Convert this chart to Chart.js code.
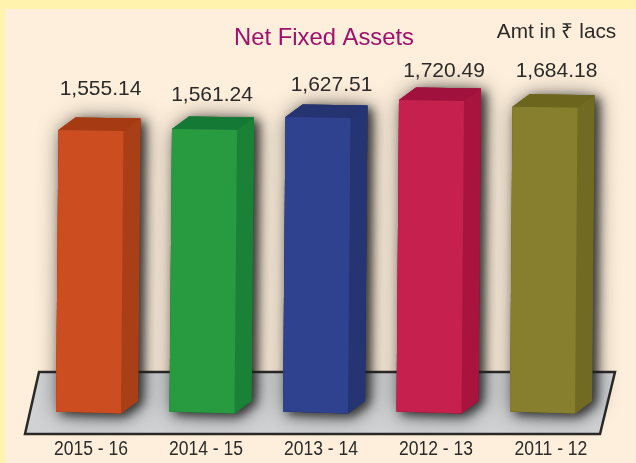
<!DOCTYPE html>
<html>
<head>
<meta charset="utf-8">
<title>Net Fixed Assets</title>
<script src="https://cdn.jsdelivr.net/npm/chart.js@4/dist/chart.umd.min.js"></script>
<style>
    html, body { margin: 0; padding: 0; background: #fff3ad; }
    canvas { display: block; }
</style>
</head>
<body>
<canvas id="assetsChart" width="636" height="463"></canvas>
<script>
const years = ['2015 - 16', '2014 - 15', '2013 - 14', '2012 - 13', '2011 - 12'];
const netFixedAssets = [1555.14, 1561.24, 1627.51, 1720.49, 1684.18];

const frontColors = ['#cb4d20', '#289a40', '#2f428f', '#c5204e', '#877f2d'];
const topColors = ['#a63a13', '#147934', '#253470', '#a0123d', '#6b651e'];
const sideColors = ['#a93f16', '#1a8236', '#253574', '#a9143f', '#716a22'];

// value labels sit by hand in the original, so each has its own offset from the bar top
const labelDx = [12, 10, 16, 15, 14];
const labelDy = [-41, -34, -32, -29, -35];

const DEPTH_X = 17;
const DEPTH_Y = 12.5;
const LEAN = 2.5;
const YEAR_SQUEEZE = 0.855; // the year labels are a narrow face, no narrow font here

function poly(ctx, pts, color) {
    ctx.beginPath();
    pts.forEach((p, i) => i ? ctx.lineTo(p[0], p[1]) : ctx.moveTo(p[0], p[1]));
    ctx.closePath();
    ctx.fillStyle = color;
    ctx.fill();
}

const pagePlugin = {
    id: 'page',
    beforeDraw(chart) {
        const ctx = chart.ctx;
        ctx.save();
        ctx.fillStyle = '#fff3ad';
        ctx.fillRect(0, 0, chart.width, chart.height);
        ctx.fillStyle = '#feefdc';
        ctx.fillRect(5, 9, chart.width - 5, chart.height - 9);

        // floor
        ctx.beginPath();
        ctx.moveTo(39, 372);
        ctx.lineTo(615, 372);
        ctx.lineTo(600, 434);
        ctx.lineTo(25, 434);
        ctx.closePath();
        ctx.fillStyle = '#d0d2d4';
        ctx.fill();
        ctx.lineWidth = 2.5;
        ctx.strokeStyle = '#2b2a29';
        ctx.stroke();
        ctx.restore();
    },
    afterDraw(chart) {
        const ctx = chart.ctx;
        ctx.save();
        ctx.textAlign = 'center';
        ctx.textBaseline = 'middle';

        ctx.font = '23.8px "Liberation Sans"';
        ctx.fillStyle = '#a0106b';
        ctx.fillText('Net Fixed Assets', 324, 38);

        ctx.font = '20.8px "Liberation Sans"';
        ctx.fillStyle = '#2b2a29';
        ctx.fillText('Amt in ₹ lacs', 556.5, 32);

        ctx.font = '21px "Liberation Sans"';
        chart.getDatasetMeta(0).data.forEach((bar, i) => {
            const txt = netFixedAssets[i].toLocaleString('en-US', { minimumFractionDigits: 2 });
            ctx.fillText(txt, bar.x + labelDx[i], bar.y + labelDy[i]);
        });

        const yearScale = chart.scales.years;
        ctx.font = '20.5px "Liberation Sans"';
        years.forEach((year, i) => {
            ctx.save();
            ctx.translate(yearScale.getPixelForValue(i), yearScale.top + 37);
            ctx.scale(YEAR_SQUEEZE, 1);
            ctx.fillText(year, 0, 0);
            ctx.restore();
        });
        ctx.restore();
    }
};

// draws the bars as boxes from the positions the bar elements got from the scales
const boxPlugin = {
    id: 'boxes',
    beforeDatasetDraw(chart, args) {
        const ctx = chart.ctx;
        args.meta.data.forEach((bar, i) => {
            const half = bar.width / 2;
            const lb = [bar.x - half, bar.base - 0.5];
            const rb = [bar.x + half, bar.base + 1.5];
            const lt = [bar.x - half + LEAN, bar.y];
            const rt = [bar.x + half + LEAN, bar.y + 1];
            const back = p => [p[0] + DEPTH_X, p[1] - DEPTH_Y];

            // two passes, one soft and wide, one tight on the right edge
            ctx.save();
            ctx.shadowColor = 'rgba(30,30,30,0.7)';
            ctx.shadowBlur = 22;
            ctx.shadowOffsetX = 3;
            ctx.shadowOffsetY = 2;
            poly(ctx, [lb, lt, back(lt), back(rt), back(rb), rb], sideColors[i]);
            ctx.shadowColor = 'rgba(30,30,30,0.75)';
            ctx.shadowBlur = 10;
            ctx.shadowOffsetX = 5;
            ctx.shadowOffsetY = 3;
            poly(ctx, [lb, lt, back(lt), back(rt), back(rb), rb], sideColors[i]);
            ctx.restore();

            poly(ctx, [rt, back(rt), back(rb), rb], sideColors[i]);
            poly(ctx, [lt, back(lt), back(rt), rt], topColors[i]);
            poly(ctx, [lb, lt, rt, rb], frontColors[i]);
        });
        return false;
    }
};

new Chart(document.getElementById('assetsChart').getContext('2d'), {
    type: 'bar',
    data: {
        labels: years,
        datasets: [{
            label: 'Net Fixed Assets',
            data: netFixedAssets,
            backgroundColor: frontColors,
            barThickness: 65
        }]
    },
    options: {
        responsive: false,
        animation: false,
        layout: { padding: { left: 31.75, right: 36.75, top: 49.4, bottom: 0 } },
        plugins: { legend: { display: false }, title: { display: false }, tooltip: { enabled: false } },
        scales: {
            x: { display: false },
            y: { display: false, min: 0, max: 2000 },
            // the year labels run on a slightly wider step than the bars
            years: {
                type: 'linear',
                axis: 'x',
                position: 'bottom',
                offset: false,
                min: -0.515,
                max: 4.42,
                afterBuildTicks(scale) {
                    scale.ticks = years.map((y, i) => ({ value: i }));
                },
                afterFit(scale) {
                    scale.height = 51;
                },
                grid: { display: false },
                border: { display: false },
                ticks: { display: false }
            }
        }
    },
    plugins: [pagePlugin, boxPlugin]
});
</script>
</body>
</html>
